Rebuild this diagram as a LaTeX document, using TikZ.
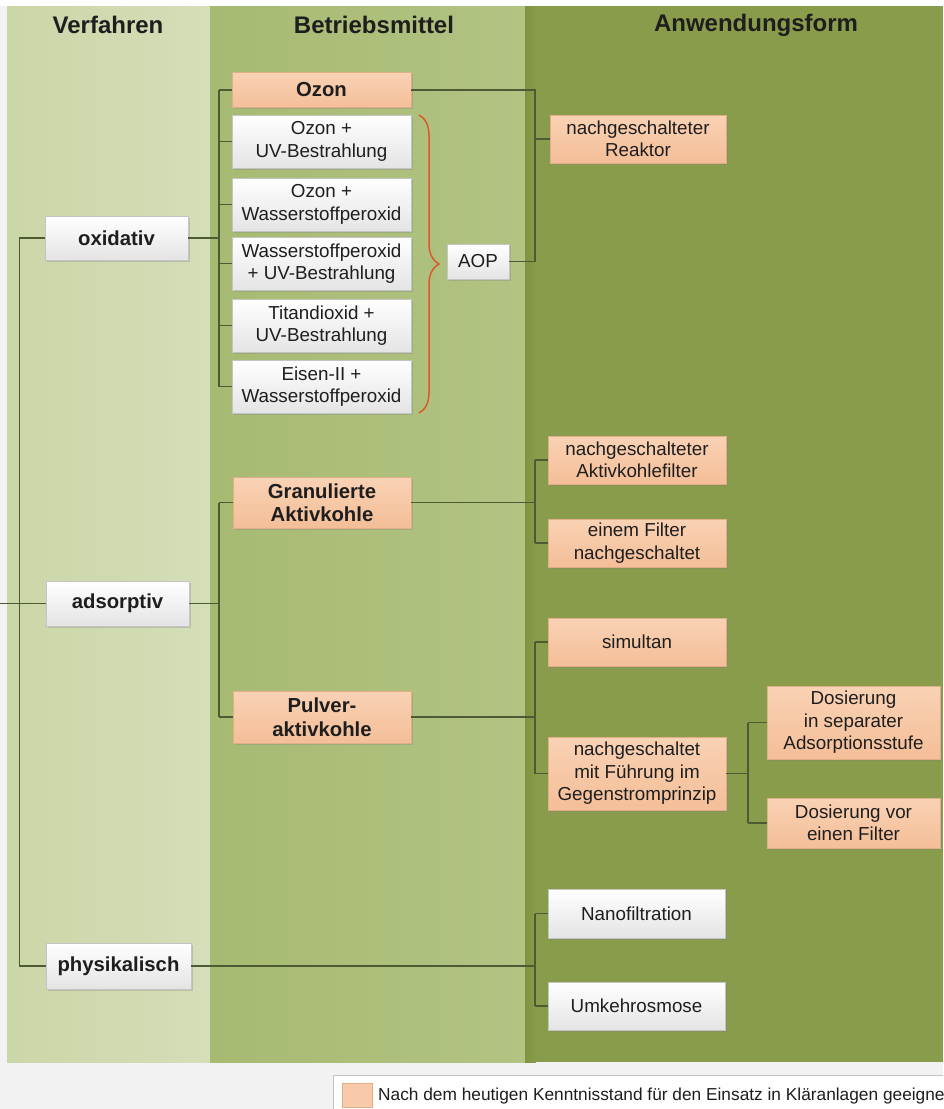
\documentclass[tikz,border=0pt]{standalone}
\usepackage{fontspec}
\setmainfont{Liberation Sans}
\usetikzlibrary{shadows,decorations.pathreplacing}
\definecolor{pagebg}{HTML}{F2F2F2}
\definecolor{colAl}{HTML}{CBD6A8}
\definecolor{colAr}{HTML}{D4DEB8}
\definecolor{colBl}{HTML}{A7BA72}
\definecolor{colBr}{HTML}{B2C383}
\definecolor{colC}{HTML}{889C4B}
\definecolor{colCd}{HTML}{7E933F}
\definecolor{lnk}{HTML}{4E5A34}
\definecolor{boxln}{HTML}{C4C4C4}
\definecolor{wbot}{HTML}{E4E4E4}
\definecolor{otop}{HTML}{F9D2B4}
\definecolor{obot}{HTML}{F4BE98}
\definecolor{oln}{HTML}{E2AE88}
\definecolor{bracec}{HTML}{D95A2B}
\definecolor{txtc}{HTML}{1E1E1E}
\begin{document}
\begin{tikzpicture}[x=1pt,y=-1pt,
  base/.style={inner sep=1pt, align=center, text=txtc,
    drop shadow={shadow xshift=1.5pt, shadow yshift=-1.8pt, opacity=0.3}},
  wbox/.style={base, draw=boxln, line width=0.5pt, top color=white, bottom color=wbot},
  obox/.style={base, draw=oln, line width=0.5pt, top color=otop, bottom color=obot},
  ntxt/.style={font=\fontsize{18.8}{22.5}\selectfont},
  btxt/.style={font=\bfseries\fontsize{20.3}{23.5}\selectfont},
  head/.style={font=\bfseries\fontsize{24}{28}\selectfont, text=txtc},
  link/.style={draw=lnk, line width=1.1pt}
]
\clip (0,0) rectangle (943,1109);
\fill[pagebg] (0,0) rectangle (943,1109);
\fill[white] (0,0) rectangle (943,6);
% columns
\shade[left color=colAl, right color=colAr] (7,6) rectangle (210,1062);
\shade[left color=colBl, right color=colBr] (210,6) rectangle (525,1062);
\fill[colC] (525,6) rectangle (943,1062);
\shade[left color=colCd, right color=colC] (525,6) rectangle (536,1062);
% headers
\node[head] (h1) at (108,25) {Verfahren};
\node[head] (h2) at (374,25) {Betriebsmittel};
\node[head] (h3) at (756,25) {Anwendungsform};
% Verfahren
\node[wbox, btxt, minimum width=143pt, minimum height=44pt] (oxi) at (116.5,238) {oxidativ};
\node[wbox, btxt, minimum width=143pt, minimum height=45pt] (ads) at (117.5,603.5) {adsorptiv};
\node[wbox, btxt, minimum width=145pt, minimum height=46pt] (phy) at (118.5,966) {physikalisch};
% Betriebsmittel oxidativ
\node[obox, btxt, minimum width=179pt, minimum height=35pt] (ozon) at (321.5,90) {Ozon};
\node[wbox, ntxt, minimum width=179pt, minimum height=53pt] (ozuv) at (321.5,141.5) {Ozon +\\UV-Bestrahlung};
\node[wbox, ntxt, minimum width=179pt, minimum height=53pt] (ozhp) at (321.5,204.5) {Ozon +\\Wasserstoffperoxid};
\node[wbox, ntxt, minimum width=179pt, minimum height=53pt] (hpuv) at (321.5,263.5) {Wasserstoffperoxid\\+ UV-Bestrahlung};
\node[wbox, ntxt, minimum width=179pt, minimum height=53pt] (tiuv) at (321.5,325.5) {Titandioxid +\\UV-Bestrahlung};
\node[wbox, ntxt, minimum width=179pt, minimum height=53pt] (fehp) at (321.5,386.5) {Eisen-II +\\Wasserstoffperoxid};
\node[wbox, ntxt, minimum width=62pt, minimum height=35pt] (aop) at (478,261.5) {AOP};
\node[obox, ntxt, minimum width=176pt, minimum height=48pt] (reak) at (638,139) {nachgeschalteter\\Reaktor};
% adsorptiv
\node[obox, btxt, minimum width=178pt, minimum height=51pt] (gak) at (322,502.5) {Granulierte\\Aktivkohle};
\node[obox, btxt, minimum width=178pt, minimum height=52pt] (pak) at (322,717) {Pulver-\\aktivkohle};
\node[obox, ntxt, minimum width=178pt, minimum height=48pt] (akf) at (637,460) {nachgeschalteter\\Aktivkohlefilter};
\node[obox, ntxt, minimum width=178pt, minimum height=48pt] (efn) at (637,543) {einem Filter\\nachgeschaltet};
\node[obox, ntxt, minimum width=178pt, minimum height=48pt] (sim) at (637,642) {simultan};
\node[obox, ntxt, minimum width=178pt, minimum height=73pt] (nmf) at (637,773.5) {nachgeschaltet\\mit Führung im\\Gegenstromprinzip};
\node[obox, ntxt, minimum width=173pt, minimum height=73pt] (dsep) at (853.5,722.5) {Dosierung\\in separater\\Adsorptionsstufe};
\node[obox, ntxt, minimum width=173pt, minimum height=50pt] (dvor) at (853.5,823) {Dosierung vor\\einen Filter};
% physikalisch
\node[wbox, ntxt, minimum width=177pt, minimum height=49pt] (nano) at (636.5,913.5) {Nanofiltration};
\node[wbox, ntxt, minimum width=177pt, minimum height=48pt] (umk) at (636.5,1006) {Umkehrosmose};
% junction coordinates
\coordinate (in) at (0,603.5);
\coordinate (xa) at (19.5,0);
\coordinate (xb) at (219,0);
\coordinate (xc) at (535,0);
\coordinate (xd) at (748,0);
% connectors: Verfahren
\draw[link] (oxi.west) -- (oxi.west -| xa) -- (phy.west -| xa) -- (phy.west);
\draw[link] (in) -- (ads.west);
% oxidativ
\draw[link] (oxi.east) -- (oxi.east -| xb);
\draw[link] (ozon.west -| xb) -- (fehp.west -| xb);
\foreach \n in {ozon,ozuv,ozhp,hpuv,tiuv,fehp}{\draw[link] (\n.west -| xb) -- (\n.west);}
\draw[link] (ozon.east) -- (ozon.east -| xc) -- (aop.east -| xc) -- (aop.east);
\draw[link] (reak.west -| xc) -- (reak.west);
\draw[bracec, line width=1.5pt, decorate, decoration={brace, amplitude=20pt}] (419,115) -- (419,413);
% adsorptiv
\draw[link] (ads.east) -- (ads.east -| xb);
\draw[link] (gak.west -| xb) -- (pak.west -| xb);
\draw[link] (gak.west -| xb) -- (gak.west);
\draw[link] (pak.west -| xb) -- (pak.west);
\draw[link] (gak.east) -- (gak.east -| xc);
\draw[link] (akf.west -| xc) -- (efn.west -| xc);
\draw[link] (akf.west -| xc) -- (akf.west);
\draw[link] (efn.west -| xc) -- (efn.west);
\draw[link] (pak.east) -- (pak.east -| xc);
\draw[link] (sim.west -| xc) -- (nmf.west -| xc);
\draw[link] (sim.west -| xc) -- (sim.west);
\draw[link] (nmf.west -| xc) -- (nmf.west);
\draw[link] (nmf.east) -- (nmf.east -| xd);
\draw[link] (dsep.west -| xd) -- (dvor.west -| xd);
\draw[link] (dsep.west -| xd) -- (dsep.west);
\draw[link] (dvor.west -| xd) -- (dvor.west);
% physikalisch
\draw[link] (phy.east) -- (phy.east -| xc);
\draw[link] (nano.west -| xc) -- (umk.west -| xc);
\draw[link] (nano.west -| xc) -- (nano.west);
\draw[link] (umk.west -| xc) -- (umk.west);
% legend
\draw[fill=white, draw=boxln, line width=0.8pt] (333,1075) rectangle (960,1125);
\node[draw=oln, fill=otop!60!obot, minimum width=30pt, minimum height=24pt, inner sep=0pt] (sw) at (357,1095) {};
\node[anchor=base west, inner sep=0pt, text=txtc, font=\fontsize{17.3}{20}\selectfont] (leg) at (378,1100) {Nach dem heutigen Kenntnisstand für den Einsatz in Kläranlagen geeignet};
\end{tikzpicture}
\end{document}
